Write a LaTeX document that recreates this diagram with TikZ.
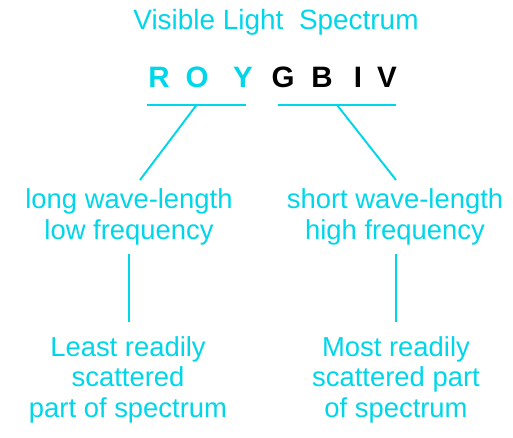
\documentclass[tikz,border=0pt]{standalone}
\usepackage{fontspec}
\setmainfont{Liberation Sans}
\usetikzlibrary{calc}
\definecolor{spec}{RGB}{0,214,234}
\begin{document}
\begin{tikzpicture}[x=0.02cm,y=-0.02cm,
    lbl/.style={text=spec, font=\fontsize{15.6}{18.2}\selectfont, align=center, anchor=base, inner sep=0pt},
    note/.style={lbl, font=\fontsize{15.6}{17.1}\selectfont},
    ltr/.style={font=\fontsize{16.8}{20}\selectfont\bfseries, anchor=base, inner sep=0pt},
    rule/.style={draw=spec, line width=1.1pt}]
    \useasboundingbox (0,0) rectangle (513,438);
    % Title
    \node[lbl, font=\fontsize{15.9}{18}\selectfont] (title) at (276,30) {Visible Light\ \ Spectrum};

    % Letters
    \node[ltr, text=spec] (r) at (159,88) {R};
    \node[ltr, text=spec] (o) at (197,88) {O};
    \node[ltr, text=spec] (y) at (243,88) {Y};
    \node[ltr] (g) at (283,88) {G};
    \node[ltr] (b) at (322,88) {B};
    \node[ltr] (i) at (358,88) {I};
    \node[ltr] (v) at (387,88) {V};

    % Underlines
    \coordinate (la) at (147,105);
    \coordinate (lb) at (246,105);
    \coordinate (ra) at (278,105);
    \coordinate (rb) at (396,105);
    \draw[rule] (la) -- (lb);
    \draw[rule] (ra) -- (rb);

    % Wave-length labels (base = last line)
    \node[lbl] (long) at (129,240) {long wave-length\\low frequency};
    \node[lbl] (short) at (395,240) {short wave-length\\high frequency};
    \coordinate (lend) at (140,180);
    \coordinate (rend) at (396,180);
    \draw[rule] ($(la)!0.5!(lb)$) -- (lend);
    \draw[rule] ($(ra)!0.5!(rb)$) -- (rend);

    % Scattering labels
    \node[note] (least) at (128,417) {Least readily\\scattered\\part of spectrum};
    \node[note] (most) at (396,417) {Most readily\\scattered part\\of spectrum};
    \coordinate (ltop) at (129,254);
    \coordinate (lbot) at (129,322);
    \coordinate (rtop) at (396,254);
    \coordinate (rbot) at (396,322);
    \draw[rule] (ltop) -- (lbot);
    \draw[rule] (rtop) -- (rbot);
\end{tikzpicture}
\end{document}
